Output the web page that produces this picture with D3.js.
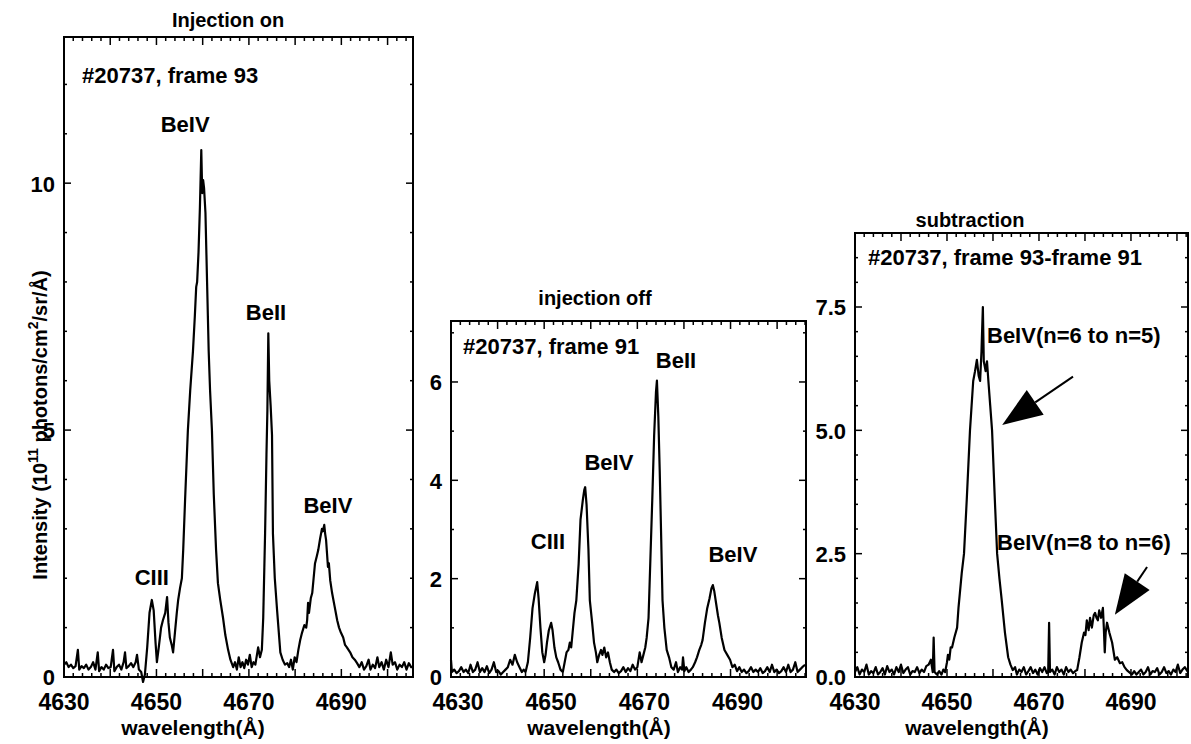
<!DOCTYPE html>
<html>
<head>
<meta charset="utf-8">
<script src="https://cdn.jsdelivr.net/npm/d3@7"></script>
<style>
  body { margin: 0; background: #fff; }
  text { font-family: "Liberation Sans", Arial, Helvetica, sans-serif; font-weight: bold; fill: #000; }
  .spec { fill: none; stroke: #000; stroke-width: 2.2; stroke-linejoin: round; }
  .frame { fill: none; stroke: #000; stroke-width: 2; }
  .tick { stroke: #000; stroke-width: 1.5; }
</style>
</head>
<body>
<div id="chart"></div>
<script>
// **** THE DATA ****
// [wavelength (Å), intensity (10^11 photons/cm2/sr/Å)]

const spectrumOn = [
  [4630,0.25],[4630.5,0.3],[4631,0.2],[4631.5,0.25],[4632,0.18],[4632.5,0.22],[4633,0.55],[4633.3,0.15],
  [4633.8,0.22],[4634.3,0.18],[4634.8,0.25],[4635.3,0.15],[4635.8,0.2],[4636.3,0.3],[4636.8,0.15],[4637.3,0.5],
  [4637.6,0.12],[4638.1,0.2],[4638.6,0.15],[4639.1,0.25],[4639.6,0.18],[4640.1,0.2],[4640.6,0.55],[4640.9,0.12],
  [4641.4,0.2],[4641.9,0.25],[4642.4,0.15],[4642.9,0.3],[4643.2,0.5],[4643.5,0.18],[4644,0.22],[4644.5,0.28],
  [4645,0.2],[4645.5,0.3],[4645.8,0.45],[4646.2,0.15],[4646.7,0.1],[4647.1,-0.1],[4647.5,0.05],[4648,0.6],
  [4648.5,1.3],[4649,1.56],[4649.4,1.35],[4649.8,0.7],[4650.1,0.3],[4650.5,0.6],[4651,1.0],[4651.4,1.15],
  [4651.9,1.3],[4652.3,1.62],[4652.6,1.1],[4652.9,0.8],[4653.3,0.65],[4653.6,0.5],[4654,0.9],[4654.4,1.3],
  [4654.7,1.56],[4655.1,1.8],[4655.5,2.0],[4655.8,2.6],[4656.2,3.6],[4656.8,5.0],[4657.3,5.8],[4657.9,6.6],
  [4658.3,7.3],[4658.6,7.9],[4658.8,8.0],[4659.1,8.6],[4659.4,9.5],[4659.7,10.67],[4659.9,9.8],[4660.1,10.06],
  [4660.3,9.9],[4660.6,9.4],[4660.9,8.2],[4661.3,6.6],[4661.6,5.8],[4662,5.0],[4662.4,3.7],[4662.9,2.57],
  [4663.3,1.9],[4663.8,1.56],[4664.4,1.2],[4664.9,0.85],[4665.5,0.55],[4666,0.35],[4666.6,0.2],[4667,0.3],
  [4667.4,0.15],[4667.8,0.4],[4668.2,0.2],[4668.6,0.3],[4669,0.18],[4669.4,0.35],[4669.8,0.25],[4670.2,0.45],
  [4670.6,0.2],[4671,0.3],[4671.4,0.25],[4672,0.6],[4672.4,0.4],[4672.8,0.55],[4673.1,1.2],[4673.5,2.9],
  [4673.8,4.5],[4674,5.4],[4674.2,6.96],[4674.4,6.0],[4674.7,5.5],[4675,4.9],[4675.2,2.9],[4675.6,2.0],
  [4676.1,1.35],[4676.8,0.5],[4677.3,0.35],[4677.8,0.25],[4678.3,0.28],[4678.7,0.2],[4679.1,0.35],[4679.5,0.15],
  [4679.9,0.4],[4680.3,0.3],[4680.7,0.55],[4681.1,0.75],[4681.5,0.9],[4682,1.05],[4682.4,1.0],[4682.6,1.15],
  [4682.8,1.5],[4683,1.3],[4683.4,1.6],[4683.7,1.7],[4684,2.0],[4684.3,2.3],[4684.7,2.45],[4685,2.57],
  [4685.4,2.8],[4685.8,3.0],[4686,2.95],[4686.3,3.08],[4686.5,2.9],[4686.7,2.77],[4686.9,2.5],[4687.1,2.23],
  [4687.3,2.3],[4687.6,1.95],[4688,1.7],[4688.5,1.45],[4688.8,1.3],[4689.1,1.15],[4689.5,1.0],[4689.9,0.9],
  [4690.4,0.8],[4690.8,0.65],[4691.2,0.6],[4691.9,0.5],[4692.4,0.4],[4692.9,0.35],[4693.4,0.28],[4693.9,0.2],
  [4694.4,0.3],[4694.9,0.15],[4695.4,0.22],[4695.9,0.35],[4696.3,0.15],[4696.8,0.25],[4697.3,0.18],[4697.8,0.4],
  [4698.2,0.2],[4698.7,0.3],[4699.2,0.15],[4699.7,0.35],[4700.2,0.2],[4700.7,0.5],[4701.1,0.25],[4701.6,0.3],
  [4702.1,0.15],[4702.6,0.25],[4703.1,0.2],[4703.6,0.3],[4704.1,0.15],[4704.6,0.28],[4705.1,0.2],[4705.5,0.2]
]

const spectrumOff = [
  [4630,0.35],[4630.2,0.1],[4630.7,0.15],[4631.2,0.08],[4631.7,0.12],[4632.2,0.2],[4632.7,0.1],[4633.2,0.15],
  [4633.7,0.08],[4634.2,0.25],[4634.7,0.1],[4635.2,0.15],[4635.7,0.3],[4636.2,0.1],[4636.7,0.18],[4637.2,0.1],
  [4637.7,0.22],[4638.2,0.08],[4638.7,0.15],[4639.2,0.3],[4639.7,0.1],[4640.2,0.12],[4640.7,0.05],[4641.2,0.1],
  [4641.7,0.15],[4642.2,0.2],[4642.7,0.35],[4643.2,0.25],[4643.7,0.45],[4644.2,0.3],[4644.7,0.2],[4645.2,0.1],
  [4645.6,0.15],[4646,0.1],[4646.5,0.3],[4647,0.8],[4647.5,1.4],[4648,1.7],[4648.5,1.93],[4648.8,1.6],
  [4649.2,1.0],[4649.6,0.5],[4650,0.3],[4650.3,0.45],[4650.6,0.7],[4651,0.95],[4651.5,1.1],[4651.8,0.95],
  [4652.2,0.6],[4652.6,0.4],[4653,0.3],[4653.5,0.15],[4654,0.1],[4654.4,0.3],[4654.8,0.5],[4655.2,0.55],
  [4655.5,0.7],[4655.8,0.6],[4656.1,0.9],[4656.5,1.3],[4656.9,1.56],[4657.4,2.3],[4657.8,3.2],[4658.3,3.6],
  [4658.6,3.8],[4658.8,3.86],[4659.1,3.5],[4659.5,2.6],[4659.8,1.56],[4660.3,1.1],[4660.7,0.7],[4661.1,0.5],
  [4661.4,0.3],[4661.8,0.45],[4662.2,0.55],[4662.5,0.45],[4662.9,0.6],[4663.3,0.4],[4663.7,0.5],[4664.1,0.3],
  [4664.5,0.15],[4665,0.1],[4665.5,0.15],[4666,0.08],[4666.5,0.12],[4667,0.2],[4667.5,0.1],[4668,0.18],
  [4668.5,0.12],[4669,0.25],[4669.5,0.15],[4670,0.2],[4670.5,0.5],[4670.9,0.3],[4671.3,0.45],[4671.7,0.6],
  [4672,0.8],[4672.4,1.2],[4672.8,2.4],[4673.2,3.6],[4673.6,4.9],[4674,5.8],[4674.2,6.03],[4674.5,5.3],
  [4674.8,4.2],[4675.1,2.9],[4675.4,1.56],[4675.8,1.0],[4676.3,0.55],[4676.8,0.4],[4677.3,0.2],[4677.8,0.15],
  [4678.3,0.3],[4678.7,0.1],[4679.2,0.2],[4679.6,0.15],[4679.8,0.4],[4680.1,0.12],[4680.5,0.2],[4681,0.1],
  [4681.5,0.15],[4681.9,0.2],[4682.4,0.3],[4682.8,0.4],[4683.3,0.55],[4683.7,0.65],[4684,0.75],[4684.5,1.1],
  [4685,1.4],[4685.5,1.6],[4685.9,1.8],[4686.2,1.87],[4686.5,1.75],[4686.9,1.5],[4687.3,1.25],[4687.6,1.1],
  [4688.1,0.8],[4688.7,0.55],[4689.3,0.45],[4689.9,0.35],[4690.4,0.2],[4690.9,0.25],[4691.4,0.12],[4691.9,0.2],
  [4692.4,0.1],[4692.9,0.15],[4693.4,0.08],[4693.9,0.12],[4694.4,0.2],[4694.9,0.1],[4695.4,0.15],[4695.9,0.1],
  [4696.4,0.18],[4696.9,0.08],[4697.4,0.12],[4697.9,0.2],[4698.4,0.1],[4698.9,0.25],[4699.4,0.1],[4699.9,0.15],
  [4700.4,0.08],[4700.9,0.12],[4701.4,0.2],[4701.9,0.1],[4702.4,0.25],[4702.9,0.1],[4703.4,0.15],[4703.9,0.3],
  [4704.4,0.1],[4704.9,0.15],[4705.4,0.2],[4706,0.25]
]

const spectrumSub = [
  [4630,0.1],[4630.5,0.2],[4631,0.05],[4631.5,0.15],[4632,0.1],[4632.5,0.25],[4633,0.05],[4633.5,0.12],
  [4634,0.08],[4634.5,0.2],[4635,0.05],[4635.5,0.1],[4636,0.18],[4636.5,0.05],[4637,0.22],[4637.5,0.1],
  [4638,0.15],[4638.5,0.05],[4639,0.2],[4639.5,0.1],[4640,0.25],[4640.5,0.08],[4641,0.15],[4641.5,0.2],
  [4642,0.05],[4642.5,0.12],[4643,0.1],[4643.5,0.2],[4644,0.08],[4644.5,0.15],[4645,0.1],[4645.5,0.22],
  [4646,0.25],[4646.5,0.35],[4646.9,0.1],[4647.1,0.8],[4647.3,0.1],[4647.8,0.05],[4648.3,0.12],[4648.8,0.05],
  [4649.2,0.15],[4649.6,0.1],[4650,0.3],[4650.2,0.45],[4650.5,0.35],[4650.8,0.6],[4651.1,0.6],[4651.6,0.8],
  [4652.2,1.0],[4652.5,1.4],[4652.8,1.7],[4653.2,2.1],[4653.7,2.5],[4654.3,3.6],[4655,5.0],[4655.7,6.0],
  [4656.1,6.2],[4656.5,6.43],[4656.9,6.1],[4657.2,6.0],[4657.5,6.6],[4657.8,7.5],[4658,6.4],[4658.4,6.2],
  [4658.7,6.4],[4659,6.0],[4659.4,5.5],[4659.8,5.0],[4660.4,3.6],[4660.9,2.5],[4661.4,2.0],[4661.9,1.56],
  [4662.6,0.9],[4663.3,0.4],[4663.8,0.25],[4664.3,0.14],[4664.8,0.2],[4665.2,0.05],[4665.7,0.15],[4666.2,0.1],
  [4666.7,0.2],[4667.2,0.05],[4667.7,0.12],[4668.2,0.2],[4668.7,0.08],[4669.2,0.15],[4669.7,0.05],[4670.2,0.18],
  [4670.7,0.1],[4671.2,0.2],[4671.7,0.08],[4672,0.1],[4672.2,1.1],[4672.4,0.1],[4672.9,0.15],[4673.4,0.05],
  [4673.9,0.2],[4674.4,0.1],[4674.9,0.15],[4675.4,0.05],[4675.9,0.2],[4676.4,0.1],[4676.9,0.15],[4677.4,0.08],
  [4677.9,0.12],[4678.3,0.14],[4678.8,0.4],[4679.3,0.7],[4679.8,0.9],[4680.1,0.85],[4680.4,1.15],[4680.8,0.95],
  [4681.1,1.2],[4681.5,1.0],[4681.9,1.25],[4682.2,1.3],[4682.5,1.2],[4682.8,1.15],[4683.1,1.35],[4683.5,1.2],
  [4683.9,1.4],[4684.1,1.0],[4684.3,0.5],[4684.5,0.9],[4684.8,1.1],[4685.3,0.9],[4685.9,0.7],[4686.5,0.35],
  [4687,0.4],[4687.6,0.28],[4688.1,0.3],[4688.6,0.2],[4689.1,0.14],[4689.6,0.1],[4690.2,0.05],[4690.7,0.12],
  [4691.2,0.05],[4691.7,0.1],[4692.2,0.15],[4692.7,0.05],[4693.2,0.1],[4693.7,0.2],[4694.2,0.05],[4694.7,0.12],
  [4695.2,0.1],[4695.7,0.18],[4696.2,0.05],[4696.7,0.1],[4697.2,0.2],[4697.7,0.08],[4698.2,0.12],[4698.7,0.05],
  [4699.2,0.15],[4699.7,0.1],[4700.2,0.25],[4700.7,0.08],[4701.2,0.15],[4701.7,0.2],[4702.4,0.1]
]

// tick labels
const xTickLabels = [4630, 4650, 4670, 4690]
const yTicksOn = [0, 5, 10]
const yTicksOff = [0, 2, 4, 6]
const yTicksSub = [0, 2.5, 5, 7.5]

// line identifications, placed in data coordinates [wavelength, intensity]
const linesOn = [
  {text: "BeIV", wl: 4656.2, v: 11.03},
  {text: "BeII", wl: 4673.7, v: 7.23},
  {text: "BeIV", wl: 4687.1, v: 3.32},
  {text: "CIII", wl: 4649.0, v: 1.86}
]
const linesOff = [
  {text: "BeII", wl: 4678.3, v: 6.28},
  {text: "BeIV", wl: 4663.9, v: 4.2},
  {text: "CIII", wl: 4650.8, v: 2.6},
  {text: "BeIV", wl: 4690.5, v: 2.34}
]
const linesSub = [
  {text: "BeIV(n=6 to n=5)", wl: 4658.7, v: 6.77, anchor: "start"},
  {text: "BeIV(n=8 to n=6)", wl: 4660.9, v: 2.58, anchor: "start"}
]
// arrows: tail -> tip, data coordinates
const arrowsSub = [
  {from: [4677.4, 6.09], to: [4662.0, 5.11]},
  {from: [4693.5, 2.23], to: [4686.5, 1.26]}
]

//------------------------------------------------------------------------------

// **** THE SETUP ****

const svg = d3.select("#chart").append("svg")
    .attr("width", 1191)
    .attr("height", 744)

// box position of each panel in pixels, plus where its texts sit
const panels = [
  {spectrum: spectrumOn, left: 64, top: 37, right: 413, bottom: 677, xMax: 4705.5, yMax: 12.96,
   yTicks: yTicksOn, yMinor: 1, yFmt: d3.format("d"), title: "Injection on", titleX: 164, titleY: 27,
   info: "#20737, frame 93", infoX: 18, infoY: 46, labelDx: 0, xLabelX: 129, lines: linesOn, arrows: []},
  {spectrum: spectrumOff, left: 451, top: 321, right: 806, bottom: 677, xMax: 4706.2, yMax: 7.24,
   yTicks: yTicksOff, yMinor: 1, yFmt: d3.format("d"), title: "injection off", titleX: 144, titleY: 305,
   info: "#20737, frame 91", infoX: 12, infoY: 33, labelDx: 7, xLabelX: 148, lines: linesOff, arrows: []},
  {spectrum: spectrumSub, left: 855, top: 233, right: 1188, bottom: 677, xMax: 4702.4, yMax: 9.0,
   yTicks: yTicksSub, yMinor: 0.5, yFmt: d3.format(".1f"), title: "subtraction", titleX: 115, titleY: 227,
   info: "#20737, frame 93-frame 91", infoX: 13, infoY: 32, labelDx: 0, xLabelX: 122, lines: linesSub, arrows: arrowsSub}
]

//------------------------------------------------------------------------------

// **** PUT IT ON THE PAGE ****

panels.forEach(p => {
  const x = d3.scaleLinear().domain([4630, p.xMax]).range([p.left, p.right])
  const y = d3.scaleLinear().domain([0, p.yMax]).range([p.bottom, p.top])
  const g = svg.append("g")

  // --> SPECTRUM
  const line = d3.line()
      .x(d => x(d[0]))
      .y(d => y(d[1]))
  g.append("path")
      .datum(p.spectrum)
      .attr("class", "spec")
      .attr("d", line)

  // --> FRAME
  g.append("rect")
      .attr("class", "frame")
      .attr("x", p.left).attr("y", p.top)
      .attr("width", p.right - p.left).attr("height", p.bottom - p.top)

  // --> X TICKS (inward, top and bottom): major every 10 Å, minor every 2 Å
  const xMinorTicks = d3.range(4632, p.xMax, 2)
  xMinorTicks.forEach(t => {
    const len = (Math.round(t) % 10 === 0) ? 8 : 4
    g.append("line").attr("class", "tick")
        .attr("x1", x(t)).attr("x2", x(t))
        .attr("y1", p.bottom).attr("y2", p.bottom - len)
    g.append("line").attr("class", "tick")
        .attr("x1", x(t)).attr("x2", x(t))
        .attr("y1", p.top).attr("y2", p.top + len)
  })
  g.selectAll(".xlab")
    .data(xTickLabels)
    .enter().append("text")
      .attr("x", d => x(d) + p.labelDx)
      .attr("y", p.bottom + 33)
      .attr("text-anchor", "middle")
      .style("font-size", "23px")
      .text(d => d)

  // --> Y TICKS (inward, left and right)
  d3.range(p.yMinor, p.yMax, p.yMinor).forEach(t => {
    const major = p.yTicks.some(v => Math.abs(v - t) < 1e-6)
    const len = major ? 7 : 3
    g.append("line").attr("class", "tick")
        .attr("x1", p.left).attr("x2", p.left + len)
        .attr("y1", y(t)).attr("y2", y(t))
    g.append("line").attr("class", "tick")
        .attr("x1", p.right).attr("x2", p.right - len)
        .attr("y1", y(t)).attr("y2", y(t))
  })
  g.selectAll(".ylab")
    .data(p.yTicks)
    .enter().append("text")
      .attr("x", p.left - 9)
      .attr("y", d => y(d))
      .attr("dy", "0.38em")
      .attr("text-anchor", "end")
      .style("font-size", "22px")
      .text(d => p.yFmt(d))

  // --> TITLES AND LABELS
  g.append("text")
      .attr("x", p.left + p.titleX).attr("y", p.titleY)
      .attr("text-anchor", "middle")
      .style("font-size", "20px")
      .text(p.title)

  g.append("text")
      .attr("x", p.left + p.infoX).attr("y", p.top + p.infoY)
      .style("font-size", "22px")
      .text(p.info)

  g.append("text")
      .attr("x", p.left + p.xLabelX).attr("y", 735)
      .attr("text-anchor", "middle")
      .style("font-size", "21px")
      .text("wavelength(Å)")

  g.selectAll(".ident")
    .data(p.lines)
    .enter().append("text")
      .attr("x", d => x(d.wl))
      .attr("y", d => y(d.v))
      .attr("text-anchor", d => d.anchor || "middle")
      .style("font-size", "22px")
      .text(d => d.text)

  // --> ARROWS
  p.arrows.forEach(a => {
    const x0 = x(a.from[0]), y0 = y(a.from[1])
    const x1 = x(a.to[0]), y1 = y(a.to[1])
    const ang = Math.atan2(y1 - y0, x1 - x0)
    const headLen = 40, headHalf = 15
    const bx = x1 - headLen * Math.cos(ang), by = y1 - headLen * Math.sin(ang)
    g.append("line")
        .attr("x1", x0).attr("y1", y0).attr("x2", bx).attr("y2", by)
        .attr("stroke", "#000").attr("stroke-width", 2)
    const px = -Math.sin(ang) * headHalf, py = Math.cos(ang) * headHalf
    g.append("path")
        .attr("d", `M${x1},${y1}L${bx + px},${by + py}L${bx - px},${by - py}Z`)
        .attr("fill", "#000")
  })
})

// --> Y AXIS TITLE (shared, left of first panel)
const yTitle = svg.append("text")
    .attr("transform", "translate(47,425) rotate(-90)")
    .attr("text-anchor", "middle")
    .style("font-size", "20px")
yTitle.append("tspan").text("Intensity (10")
yTitle.append("tspan").attr("dy", -9).style("font-size", "14px").text("11")
yTitle.append("tspan").attr("dy", 9).text(" photons/cm")
yTitle.append("tspan").attr("dy", -9).style("font-size", "14px").text("2")
yTitle.append("tspan").attr("dy", 9).text("/sr/Å)")
</script>
</body>
</html>
